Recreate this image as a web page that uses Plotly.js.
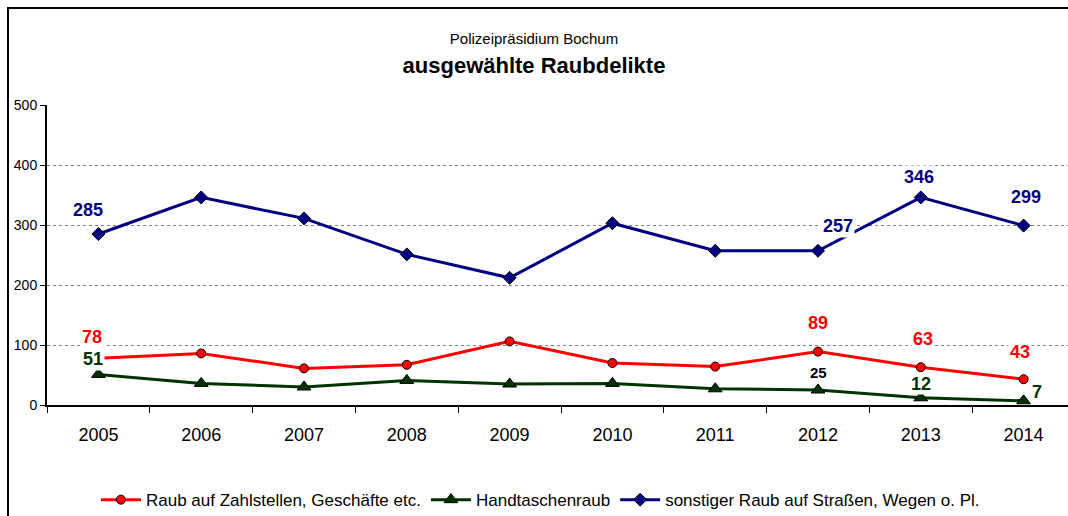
<!DOCTYPE html>
<html>
<head>
<meta charset="utf-8">
<script src="https://cdn.plot.ly/plotly-3.0.1.min.js"></script>
<style>
  html, body { margin: 0; padding: 0; background: #fff; overflow: hidden; width: 1068px; height: 516px; }
  #frame { position: absolute; left: 7px; top: 7px; width: 1100px; height: 600px; border-left: 2px solid #000; border-top: 2px solid #000; }
  #chart { position: absolute; left: 0; top: 0; }
</style>
</head>
<body>
<div id="frame"></div>
<div id="chart"></div>
<script>
// ---- data ----
const years = ["2005","2006","2007","2008","2009","2010","2011","2012","2013","2014"];
const raubZahlstellen = [78, 86, 61, 67, 106, 70, 64, 89, 63, 43];
const handtaschenraub = [51, 36, 30, 41, 35, 36, 27, 25, 12, 7];
const sonstigerRaub  = [285, 346, 311, 251, 212, 303, 257, 257, 346, 299];

const seriesNames = [
  "Raub auf Zahlstellen, Geschäfte etc.",
  "Handtaschenraub",
  "sonstiger Raub auf Straßen, Wegen o. Pl."
];

// which years carry a value label, per series
const labelYearsRed   = ["2005","2012","2013","2014"];
const labelYearsGreen = ["2005","2012","2013","2014"];
const labelYearsBlue  = ["2005","2012","2013","2014"];

const FONT = '"Liberation Sans", Arial, sans-serif';

const red = '#ff0000', green = '#003300', blue = '#000080';

const traces = [
  {
    x: years, y: raubZahlstellen, name: seriesNames[0], type: 'scatter', mode: 'lines+markers',
    line: {color: red, width: 3},
    marker: {symbol: 'circle', size: 9, color: red, line: {color: '#000', width: 1}}
  },
  {
    x: years, y: handtaschenraub, name: seriesNames[1], type: 'scatter', mode: 'lines+markers',
    line: {color: green, width: 3},
    marker: {symbol: 'triangle-up', size: 12, color: green, line: {color: '#000', width: 1}}
  },
  {
    x: years, y: sonstigerRaub, name: seriesNames[2], type: 'scatter', mode: 'lines+markers',
    line: {color: blue, width: 3},
    marker: {symbol: 'diamond', size: 10, color: blue, line: {color: '#000', width: 1}}
  }
];

// label offsets (style)
const offsRed   = [[-6, 21], [0, 29], [2, 28], [-4, 27]];
const offsGreen = [[-5, 15], [0, 18], [0, 14], [13, 9]];
const offsBlue  = [[-10, 24], [20, 25], [-2, 20], [2, 29]];

function makeLabels(labelYears, values, offs, colors, sizes, pads) {
  return labelYears.map((yr, i) => {
    const idx = years.indexOf(yr);
    const v = values[idx];
    return {
      x: idx, y: v, xref: 'x', yref: 'y', text: '<b>' + v + '</b>', showarrow: false,
      xshift: offs[i][0], yshift: offs[i][1], bgcolor: '#ffffff', borderpad: pads[i],
      font: {family: FONT, size: sizes[i], color: colors[i]}
    };
  });
}

const annotations = []
  .concat(makeLabels(labelYearsBlue, sonstigerRaub, offsBlue, [blue, blue, blue, blue], [18, 18, 18, 18], [1, 1, 1, 1]))
  .concat(makeLabels(labelYearsRed, raubZahlstellen, offsRed, [red, red, red, red], [18, 18, 18, 18], [1, 1, 1, 1]))
  .concat(makeLabels(labelYearsGreen, handtaschenraub, offsGreen, [green, '#000000', green, green], [18, 15, 18, 18], [1, 1, 0, 1]));

const layout = {
  width: 1080, height: 516,
  margin: {l: 47, r: 5, t: 105, b: 111, autoexpand: false},
  paper_bgcolor: 'rgba(0,0,0,0)', plot_bgcolor: '#ffffff',
  font: {family: FONT, color: '#000'},
  title: {
    text: "<span style='font-size:15px;font-weight:normal'>Polizeipräsidium Bochum</span><br><b>ausgewählte Raubdelikte</b>",
    font: {family: FONT, size: 22, color: '#000'},
    x: 534/1080, xref: 'container', xanchor: 'center',
    y: 1 - 44/516, yref: 'container', yanchor: 'top'
  },
  xaxis: {
    type: 'category', range: [-0.5, 9.5],
    showline: true, linecolor: '#000', linewidth: 2,
    ticks: 'outside', tickson: 'boundaries', ticklen: 6, tickcolor: '#000', tickwidth: 1,
    showgrid: false, zeroline: false,
    tickfont: {family: FONT, size: 18, color: '#000'},
    ticklabelstandoff: 12
  },
  yaxis: {
    range: [0, 500], tickvals: [0, 100, 200, 300, 400, 500],
    showline: true, linecolor: '#000', linewidth: 2,
    ticks: 'outside', ticklen: 5, tickcolor: '#000',
    showgrid: true, gridcolor: '#808080', gridwidth: 1, griddash: 'dot',
    zeroline: false,
    tickfont: {family: FONT, size: 14, color: '#000'}
  },
  showlegend: true,
  legend: {
    orientation: 'h', x: 0.48, xanchor: 'center', y: -0.317, yanchor: 'middle',
    font: {family: FONT, size: 17, color: '#000'},
    bgcolor: 'rgba(0,0,0,0)', itemwidth: 40, tracegroupgap: 0
  },
  annotations: annotations
};

Plotly.newPlot('chart', traces, layout, {staticPlot: true, displayModeBar: false});
</script>
</body>
</html>
